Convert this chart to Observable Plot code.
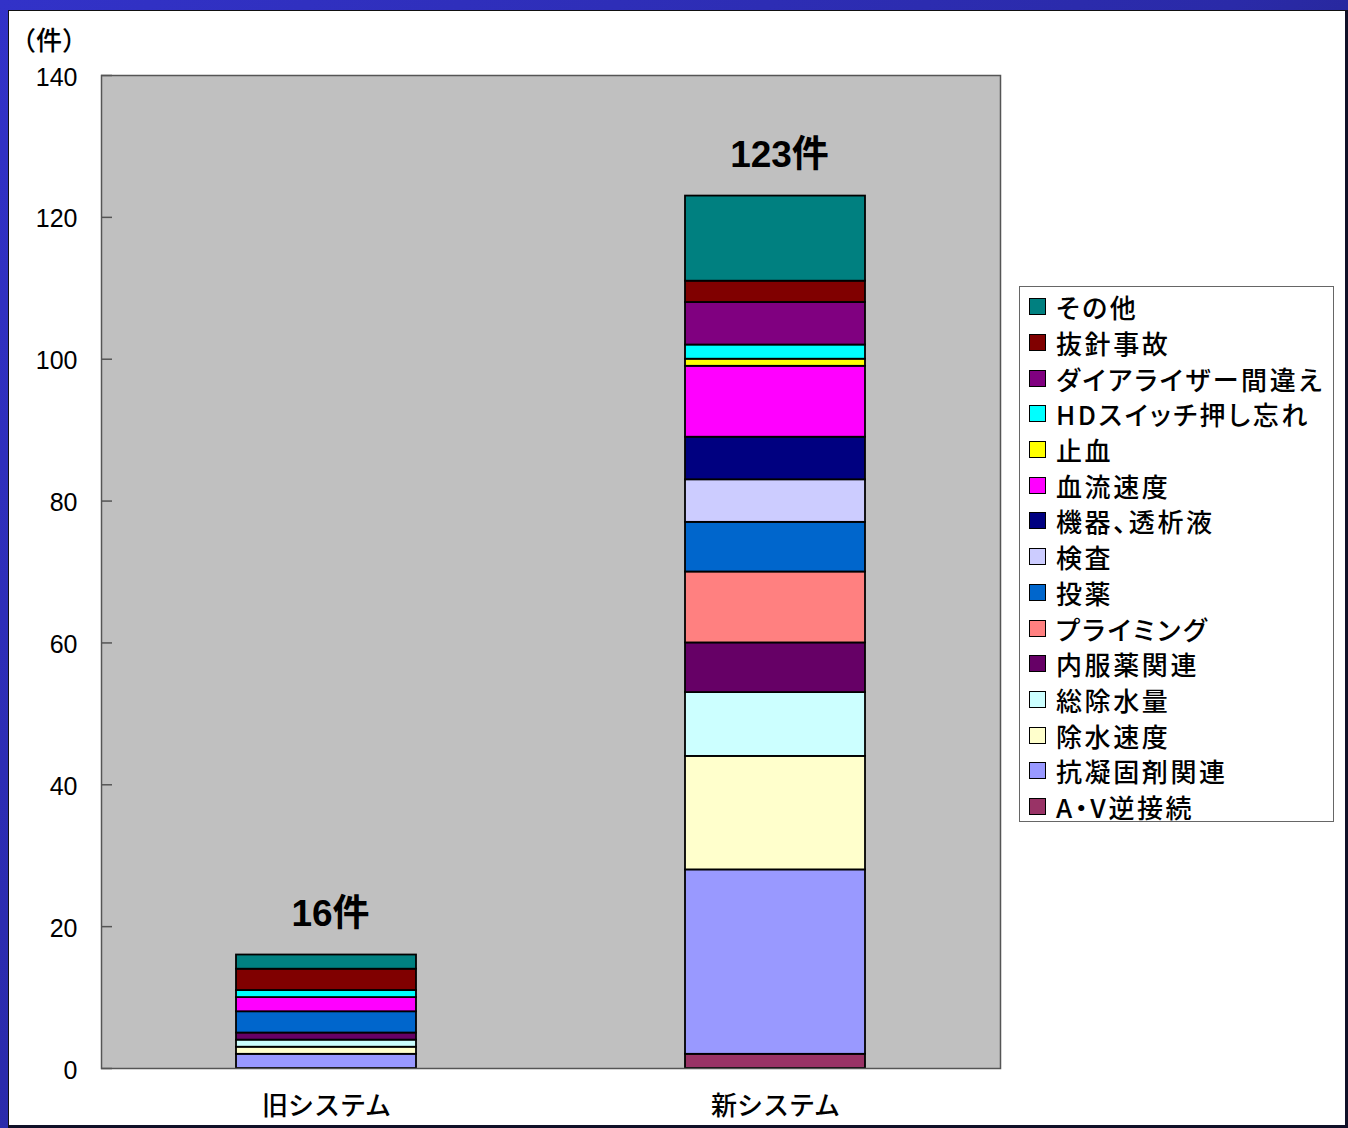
<!DOCTYPE html>
<html>
<head>
<meta charset="utf-8">
<script src="https://cdn.jsdelivr.net/npm/d3@7"></script>
<script src="https://cdn.jsdelivr.net/npm/@observablehq/plot@0.6"></script>
<style>
  html, body { margin: 0; padding: 0; }
  body {
    width: 1348px; height: 1128px; position: relative; overflow: hidden;
    background: linear-gradient(135deg, #3232c8 0%, #2a2aa8 50%, #15154a 100%);
    font-family: "Noto Sans CJK JP", "Liberation Sans", sans-serif;
  }
  #panel {
    position: absolute; left: 8px; top: 10px; width: 1340px; height: 1118px;
    background: #fff; box-sizing: border-box;
    border-top: 1px solid #111; border-left: 1px solid #111;
    border-right: 3px solid #101028; border-bottom: 3px solid #101028;
  }
  #chart { position: absolute; left: 0; top: 0; }
  #unit {
    position: absolute; left: 22px; top: 20px; font-size: 26px; color: #000;
    font-feature-settings: "palt"; letter-spacing: 1px; font-weight: 500;
  }
  #legend {
    position: absolute; left: 1019px; top: 286px; width: 315px; height: 536px;
    box-sizing: border-box; border: 1px solid #666; background: #fff;
    padding-top: 2px;
  }
  .item { height: 35.7px; display: flex; align-items: center; }
  .sw {
    width: 15px; height: 15px; border: 1.5px solid #000; margin-left: 9px; margin-right: 10px;
    flex: none;
  }
  .lab { font-size: 26px; font-weight: 500; letter-spacing: 2.6px; font-feature-settings: "palt"; white-space: nowrap; color: #000; }
</style>
</head>
<body>
<div id="panel"></div>
<div id="chart"></div>
<div id="unit">（件）</div>
<div id="legend"></div>
<script>
// Categories, stacked bottom (first) to top (last)
const categories = ["A・V逆接続", "抗凝固剤関連", "除水速度", "総除水量", "内服薬関連", "プライミング", "投薬", "検査", "機器、透析液", "血流速度", "止血", "HDスイッチ押し忘れ", "ダイアライザー間違え", "抜針事故", "その他"];
const colors = ["#993366", "#9999ff", "#ffffcc", "#ccffff", "#660066", "#ff8080", "#0066cc", "#ccccff", "#000080", "#ff00ff", "#ffff00", "#00ffff", "#800080", "#800000", "#008080"];
const systems = ["旧システム", "新システム"];
const oldCounts = [0, 2, 1, 1, 1, 0, 3, 0, 0, 2, 0, 1, 0, 3, 2];
const newCounts = [2, 26, 16, 9, 7, 10, 7, 6, 6, 10, 1, 2, 6, 3, 12];
const yTicks = [0, 20, 40, 60, 80, 100, 120, 140];

const seriesBySystem = [oldCounts, newCounts];
const rows = [];
systems.forEach((s, i) => categories.forEach((c, j) => {
  const v = seriesBySystem[i][j];
  if (v > 0) rows.push({system: s, cause: c, count: v});
}));
const totals = systems.map((s, i) => ({system: s, total: d3.sum(seriesBySystem[i])}));

const chart = Plot.plot({
  width: 1010, height: 1128,
  marginLeft: 101, marginRight: 10, marginTop: 75, marginBottom: 60,
  style: {background: "transparent", fontFamily: "'Liberation Sans', 'Noto Sans CJK JP', sans-serif", color: "#000", overflow: "visible"},
  x: {domain: systems, paddingInner: 0.6, paddingOuter: 0.3, label: null},
  y: {domain: [0, 140], label: null},
  color: {domain: categories, range: colors},
  marks: [
    Plot.frame({fill: "#c0c0c0", stroke: "none"}),
    Plot.barY(rows, Plot.stackY({order: categories}, {x: "system", y: "count", fill: "cause", stroke: "#000", strokeWidth: 1.8})),
    Plot.frame({stroke: "#555", strokeWidth: 1.5}),
    Plot.axisY({ticks: yTicks, tickSize: 0, tickPadding: 24, fontSize: 25, letterSpacing: 1.5, dy: 2}),
    Plot.axisY({ticks: yTicks, tickSize: -11, text: null, stroke: "#555", strokeWidth: 1.5}),
    Plot.axisX({tickSize: 0, tickPadding: 28, fontSize: 26, fontWeight: 500, fontFamily: "'Noto Sans CJK JP', sans-serif", letterSpacing: 3}),
    Plot.text(totals, {x: "system", y: "total", text: d => d.total + "件", dy: -29, lineAnchor: "bottom", fontSize: 37, fontWeight: "bold", fill: "#000", dx: 4})
  ]
});
document.getElementById("chart").appendChild(chart);

// Legend: top to bottom = reverse of stack order
const legend = document.getElementById("legend");
categories.slice().reverse().forEach(c => {
  const idx = categories.indexOf(c);
  const item = document.createElement("div");
  item.className = "item";
  const sw = document.createElement("div");
  sw.className = "sw";
  sw.style.background = colors[idx];
  const lab = document.createElement("div");
  lab.className = "lab";
  lab.textContent = c;
  item.appendChild(sw); item.appendChild(lab);
  legend.appendChild(item);
});
</script>
</body>
</html>
